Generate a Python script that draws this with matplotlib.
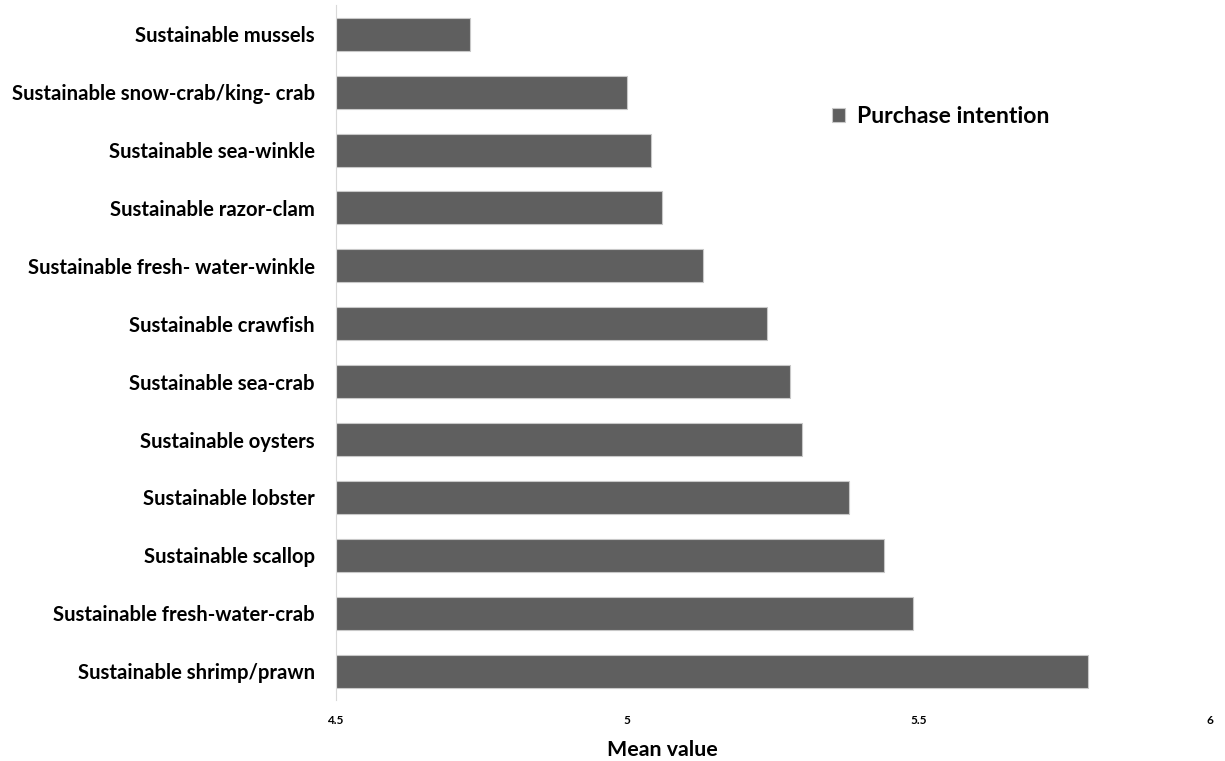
import numpy as np
import matplotlib.pyplot as plt

plt.rcParams['font.family'] = ['Lato', 'DejaVu Sans']

# Datos: intencion de compra (media)
categorias = ['Sustainable mussels',
              'Sustainable snow-crab/king- crab',
              'Sustainable sea-winkle',
              'Sustainable razor-clam',
              'Sustainable fresh- water-winkle',
              'Sustainable crawfish',
              'Sustainable sea-crab',
              'Sustainable oysters',
              'Sustainable lobster',
              'Sustainable scallop',
              'Sustainable fresh-water-crab',
              'Sustainable shrimp/prawn']
valores = [4.73, 5.00, 5.04, 5.06, 5.13, 5.24, 5.28, 5.30, 5.38, 5.44, 5.49, 5.79]
ticks_x = [4.5, 5, 5.5, 6]
etiquetas_x = ['4.5', '5', '5.5', '6']

fig = plt.figure(figsize=(12.25, 7.61), dpi=100)
ax = fig.add_axes([0.274, 0.080, 0.714, 0.913])

pos = np.arange(len(categorias))
ax.barh(pos, np.array(valores) - 4.5, left=4.5, height=0.57,
        color='#5f5f5f', edgecolor='#c8c8c8', linewidth=0.8,
        label='Purchase intention')

ax.set_xlim(4.5, 6)
ax.set_ylim(len(categorias) - 0.5, -0.5)
ax.set_yticks(pos)
ax.set_yticklabels(categorias, fontsize=14.6, fontweight='bold')
ax.set_xticks(ticks_x)
ax.set_xticklabels(etiquetas_x, fontsize=8.5, fontweight='bold')
ax.tick_params(axis='both', length=0)
ax.tick_params(axis='x', pad=11)
ax.tick_params(axis='y', pad=15)

for s in ['top', 'right', 'bottom']:
    ax.spines[s].set_visible(False)
ax.spines['left'].set_color('#d9d9d9')

ax.set_xlabel('Mean value', fontsize=15.4, fontweight='bold', labelpad=8)
ax.xaxis.set_label_coords(0.373, -0.058)

ax.legend(loc='center left', bbox_to_anchor=(0.567, 0.840), frameon=False,
          borderpad=0, borderaxespad=0,
          handlelength=0.6, handleheight=0.6, handletextpad=0.5,
          prop={'size': 16.6, 'weight': 'bold'})

fig.savefig('out.png', dpi=100)
